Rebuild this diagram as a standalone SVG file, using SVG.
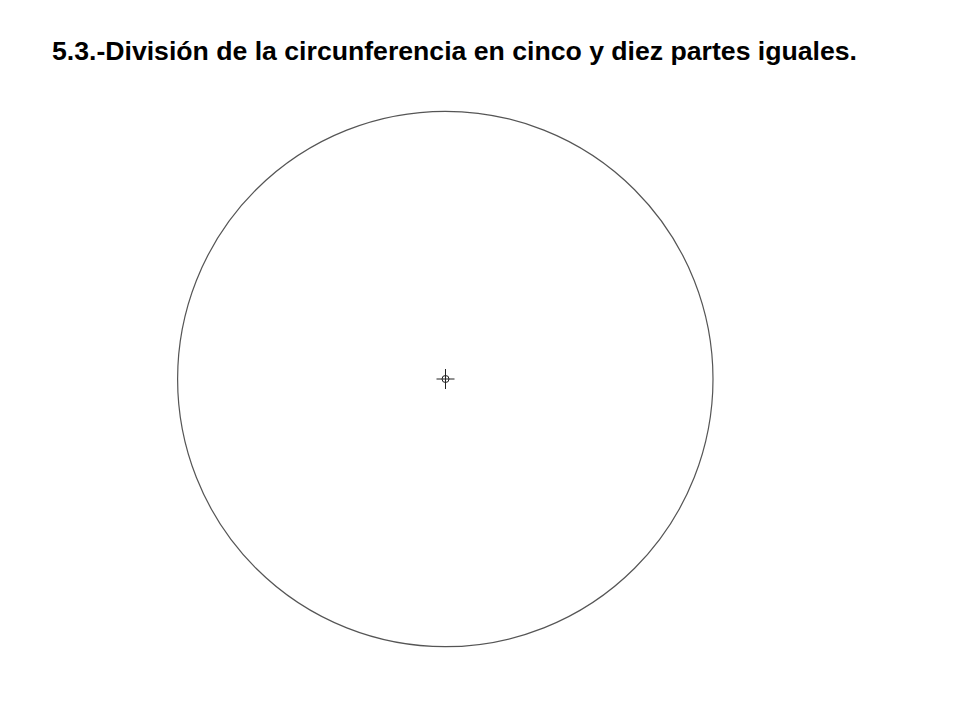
<svg xmlns="http://www.w3.org/2000/svg" width="960" height="720" viewBox="0 0 960 720">
<style>
.title{font-family:"Liberation Sans",Arial,sans-serif;font-weight:bold;font-size:25px;fill:#000}
.ln{fill:none;stroke:#555;stroke-width:1.2}
.mk{fill:none;stroke:#222;stroke-width:1}
</style>
<rect width="960" height="720" fill="#fff"/>
<text class="title" x="52" y="60" textLength="805" lengthAdjust="spacingAndGlyphs">5.3.-División de la circunferencia en cinco y diez partes iguales.</text>
<g id="circle">
<circle class="ln" cx="445.3" cy="379" r="267.7"/>
</g>
<g id="center">
<circle class="mk" cx="445.5" cy="379" r="3.5"/>
<line class="mk" x1="436.5" y1="379" x2="454.5" y2="379"/>
<line class="mk" x1="445.5" y1="369" x2="445.5" y2="389"/>
</g>
</svg>
